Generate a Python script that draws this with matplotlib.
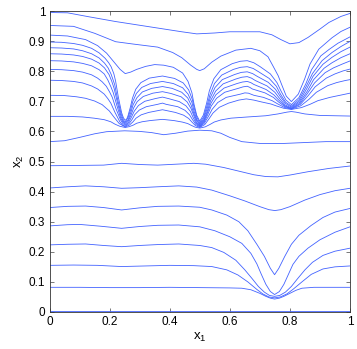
import matplotlib
matplotlib.use("Agg")
import matplotlib.pyplot as plt

# level curves, each a list of (x1, x2) points
c01 = [(0, .995), (.06, .994), (.13, .981), (.22, .965), (.33, .948), (.44, .931), (.49, .924), (.55, .927),
       (.60, .931), (.70, .931), (.74, .921), (.77, .905), (.80, .891), (.83, .895), (.86, .912), (.90, .940),
       (.93, .962), (.97, .982), (1.0, .992)]
c02 = [(0, .952), (.08, .949), (.15, .926), (.22, .898), (.28, .890), (.36, .880), (.41, .862), (.44, .845),
       (.47, .820), (.49, .806), (.50, .802), (.515, .808), (.54, .830), (.57, .850), (.62, .870), (.67, .876),
       (.70, .868), (.727, .848), (.745, .815), (.761, .785), (.774, .752), (.788, .717), (.805, .699),
       (.828, .724), (.849, .774), (.867, .824), (.896, .873), (.940, .911), (.97, .932), (1.0, .946)]
c03 = [(0, .920), (.06, .917), (.12, .905), (.16, .885), (.19, .860), (.215, .830), (.235, .806), (.252, .792),
       (.27, .797), (.29, .806), (.32, .816), (.35, .822), (.38, .820), (.412, .813), (.443, .794), (.461, .766),
       (.474, .728), (.481, .690), (.490, .653), (.500, .634), (.512, .654), (.523, .694), (.532, .735),
       (.547, .775), (.570, .805), (.608, .825), (.635, .833), (.658, .835), (.680, .828), (.701, .815),
       (.735, .791), (.757, .762), (.771, .733), (.787, .704), (.805, .689), (.830, .712), (.853, .758),
       (.872, .805), (.903, .851), (.93, .872), (.96, .893), (1.0, .914)]
c04 = [(0, .897), (.04, .896), (.08, .892), (.11, .886), (.14, .876), (.165, .861), (.185, .843), (.197, .828),
       (.205, .815), (.214, .792), (.220, .767), (.229, .714), (.240, .662), (.246, .645), (.252, .637),
       (.257, .641), (.261, .651), (.269, .680), (.276, .710), (.287, .740), (.304, .762), (.332, .777),
       (.376, .784), (.416, .776), (.445, .761), (.463, .738), (.475, .707), (.482, .676), (.491, .645),
       (.500, .629), (.513, .648), (.524, .685), (.534, .722), (.549, .759), (.573, .787), (.612, .806),
       (.636, .813), (.658, .815), (.678, .809), (.696, .798), (.731, .776), (.755, .750), (.769, .723),
       (.786, .697), (.805, .684), (.831, .706), (.854, .749), (.875, .792), (.907, .835), (.94, .862),
       (.97, .882), (1.0, .899)]
c05 = [(0, .878), (.04, .877), (.08, .874), (.11, .868), (.14, .858), (.165, .844), (.183, .827), (.195, .811),
       (.205, .790), (.212, .770), (.217, .755), (.227, .705), (.239, .656), (.246, .638), (.252, .631),
       (.261, .645), (.270, .672), (.277, .699), (.289, .726), (.307, .746), (.336, .759), (.376, .766),
       (.412, .759), (.443, .745), (.461, .724), (.474, .696), (.481, .667), (.490, .639), (.500, .625),
       (.513, .642), (.525, .677), (.535, .712), (.551, .746), (.575, .772), (.616, .789), (.638, .796),
       (.658, .798), (.676, .792), (.691, .783), (.728, .763), (.752, .740), (.768, .716), (.785, .693),
       (.805, .681), (.832, .701), (.856, .742), (.877, .783), (.910, .823), (.94, .846), (.97, .865),
       (1.0, .880)]
c06 = [(0, .858), (.04, .857), (.08, .854), (.11, .849), (.14, .840), (.165, .827), (.183, .811), (.198, .789),
       (.207, .767), (.215, .743), (.226, .696), (.238, .650), (.245, .634), (.252, .627), (.262, .639),
       (.271, .664), (.278, .688), (.291, .712), (.309, .731), (.340, .743), (.376, .749), (.408, .743),
       (.440, .730), (.460, .711), (.472, .686), (.480, .660), (.490, .635), (.500, .622), (.514, .638),
       (.526, .670), (.536, .702), (.553, .734), (.578, .758), (.620, .774), (.640, .780), (.658, .782),
       (.672, .777), (.685, .769), (.724, .751), (.750, .730), (.766, .709), (.784, .688), (.805, .678),
       (.833, .697), (.858, .734), (.879, .772), (.914, .810), (.94, .828), (.97, .845), (1.0, .858)]
c07 = [(0, .835), (.04, .834), (.08, .831), (.11, .826), (.14, .818), (.165, .805), (.182, .791), (.194, .771),
       (.204, .749), (.212, .729), (.224, .687), (.237, .644), (.245, .630), (.252, .623), (.262, .634),
       (.272, .656), (.280, .678), (.292, .699), (.312, .716), (.344, .727), (.376, .732), (.404, .726),
       (.438, .715), (.458, .698), (.471, .676), (.480, .653), (.489, .630), (.500, .619), (.514, .634),
       (.526, .663), (.537, .693), (.554, .722), (.581, .744), (.624, .759), (.642, .764), (.658, .766),
       (.670, .762), (.680, .756), (.721, .739), (.747, .721), (.764, .703), (.783, .685), (.805, .676),
       (.834, .693), (.859, .727), (.882, .761), (.917, .795), (.945, .811), (.975, .824), (1.0, .834)]
c08 = [(0, .806), (.04, .805), (.08, .802), (.11, .797), (.14, .788), (.16, .777), (.175, .765), (.189, .750),
       (.200, .731), (.209, .713), (.221, .676), (.236, .639), (.244, .626), (.252, .620), (.263, .629),
       (.273, .648), (.282, .667), (.296, .686), (.317, .700), (.352, .709), (.376, .714), (.396, .709),
       (.432, .699), (.454, .685), (.469, .666), (.478, .646), (.488, .627), (.500, .617), (.514, .630),
       (.527, .657), (.538, .684), (.556, .710), (.583, .730), (.628, .743), (.644, .748), (.658, .750),
       (.667, .746), (.675, .741), (.717, .728), (.745, .713), (.762, .698), (.782, .683), (.805, .675),
       (.835, .690), (.861, .719), (.884, .748), (.921, .777), (.95, .791), (.977, .801), (1.0, .807)]
c09 = [(0, .770), (.04, .769), (.08, .766), (.11, .761), (.14, .751), (.16, .741), (.182, .724), (.194, .709),
       (.204, .694), (.218, .663), (.234, .632), (.243, .621), (.252, .617), (.264, .625), (.275, .640),
       (.284, .656), (.299, .671), (.322, .682), (.360, .690), (.376, .694), (.388, .690), (.427, .682),
       (.451, .670), (.466, .655), (.476, .639), (.487, .623), (.500, .615), (.515, .627), (.529, .650),
       (.541, .673), (.560, .696), (.588, .713), (.636, .724), (.650, .728), (.662, .727), (.680, .720),
       (.712, .713), (.741, .702), (.760, .691), (.781, .680), (.805, .674), (.836, .685), (.864, .707),
       (.888, .730), (.926, .752), (.955, .762), (.984, .769), (1.0, .772)]
c10 = [(0, .720), (.05, .719), (.09, .715), (.12, .710), (.15, .701), (.175, .689), (.199, .668), (.215, .647),
       (.232, .626), (.252, .615), (.266, .621), (.278, .632), (.288, .644), (.305, .655), (.330, .663),
       (.376, .672), (.419, .663), (.446, .654), (.463, .643), (.474, .631), (.486, .619), (.500, .613),
       (.517, .623), (.531, .642), (.544, .661), (.565, .680), (.596, .694), (.630, .704), (.655, .708),
       (.680, .704), (.705, .698), (.737, .691), (.757, .684), (.779, .677), (.805, .673), (.838, .679),
       (.867, .690), (.893, .702), (.933, .713), (1.0, .727)]
c11 = [(0, .650), (.06, .650), (.11, .648), (.148, .644), (.182, .639), (.204, .632), (.218, .624), (.234, .617),
       (.252, .613), (.266, .616), (.279, .621), (.290, .627), (.308, .632), (.335, .636), (.376, .640),
       (.414, .636), (.442, .631), (.460, .626), (.472, .620), (.485, .614), (.500, .611), (.518, .615),
       (.534, .623), (.548, .631), (.570, .638), (.604, .644), (.660, .648), (.72, .652), (.76, .658),
       (.79, .664), (.805, .666), (.82, .664), (.85, .658), (.90, .653), (1.0, .651)]
c12 = [(0, .566), (.05, .569), (.10, .580), (.15, .592), (.19, .599), (.25, .602), (.30, .600), (.34, .596),
       (.38, .589), (.42, .594), (.46, .601), (.50, .604), (.54, .602), (.57, .594), (.60, .580), (.64, .566),
       (.70, .560), (.78, .560), (.85, .563), (.92, .566), (1.0, .566)]
c13 = [(0, .486), (.10, .487), (.18, .488), (.24, .494), (.30, .490), (.36, .488), (.42, .491), (.48, .494),
       (.52, .491), (.58, .480), (.63, .468), (.68, .456), (.72, .450), (.76, .449), (.80, .455), (.86, .466),
       (.93, .477), (1.0, .485)]
c14 = [(0, .412), (.06, .416), (.12, .419), (.18, .416), (.24, .411), (.30, .413), (.36, .416), (.43, .419),
       (.49, .415), (.54, .405), (.60, .386), (.65, .369), (.70, .350), (.73, .340), (.75, .337), (.77, .340),
       (.80, .350), (.85, .372), (.90, .390), (.95, .403), (1.0, .411)]
c15 = [(0, .347), (.06, .351), (.12, .352), (.18, .347), (.24, .339), (.30, .346), (.36, .351), (.43, .352),
       (.50, .348), (.54, .339), (.59, .322), (.63, .300), (.66, .270), (.69, .225), (.715, .185), (.735, .145),
       (.749, .124), (.763, .145), (.783, .185), (.805, .225), (.83, .255), (.87, .287), (.91, .314),
       (.95, .332), (1.0, .344)]
c16 = [(0, .286), (.06, .290), (.10, .291), (.17, .285), (.24, .278), (.30, .284), (.36, .288), (.43, .289),
       (.50, .283), (.55, .270), (.60, .250), (.64, .228), (.67, .195), (.69, .160), (.705, .125), (.72, .092),
       (.735, .068), (.749, .058), (.765, .068), (.78, .092), (.795, .125), (.81, .158), (.83, .185),
       (.86, .212), (.90, .240), (.95, .265), (1.0, .283)]
c17 = [(0, .223), (.06, .225), (.12, .226), (.18, .221), (.24, .217), (.30, .221), (.36, .224), (.43, .226),
       (.50, .221), (.54, .214), (.58, .198), (.62, .172), (.65, .140), (.675, .110), (.695, .085), (.715, .066),
       (.732, .055), (.749, .052), (.766, .055), (.785, .066), (.805, .085), (.825, .110), (.85, .140),
       (.875, .165), (.91, .188), (.95, .202), (1.0, .212)]
c18 = [(0, .155), (.08, .156), (.16, .155), (.24, .151), (.32, .153), (.40, .155), (.48, .154), (.54, .151),
       (.59, .140), (.627, .123), (.66, .100), (.69, .075), (.71, .060), (.73, .050), (.749, .047), (.768, .050),
       (.79, .060), (.81, .075), (.84, .100), (.871, .125), (.91, .143), (.95, .150), (1.0, .153)]
c19 = [(0, .082), (.1, .082), (.2, .081), (.3, .081), (.4, .082), (.5, .081), (.6, .080), (.64, .079),
       (.67, .074), (.70, .062), (.72, .052), (.735, .046), (.749, .043), (.765, .046), (.78, .052), (.80, .062),
       (.82, .072), (.84, .079), (.88, .082), (1.0, .082)]
c20 = [(0, .002), (1.0, .002)]

curves = [c01, c02, c03, c04, c05, c06, c07, c08, c09, c10,
          c11, c12, c13, c14, c15, c16, c17, c18, c19, c20]

x_ticks = [0, 0.2, 0.4, 0.6, 0.8, 1]
y_ticks = [0, 0.1, 0.2, 0.3, 0.4, 0.5, 0.6, 0.7, 0.8, 0.9, 1]

plt.rcParams['font.family'] = ['Liberation Sans', 'DejaVu Sans']

fig = plt.figure(figsize=(3.57, 3.49), dpi=100)
ax = fig.add_axes([49.5 / 357, 37 / 349, 300.5 / 357, 301 / 349])

for c in curves:
    xs = [p[0] for p in c]
    ys = [p[1] for p in c]
    ax.plot(xs, ys, color='#4262ff', lw=0.6)

ax.set_xlim(0, 1)
ax.set_ylim(0, 1)
ax.set_xticks(x_ticks)
ax.set_xticklabels(['0', '0.2', '0.4', '0.6', '0.8', '1'])
ax.set_yticks(y_ticks)
ax.set_yticklabels(['0', '0.1', '0.2', '0.3', '0.4', '0.5', '0.6', '0.7', '0.8', '0.9', '1'])
ax.tick_params(direction='in', length=3, width=0.5, labelsize=8.5, pad=3,
               top=True, right=True, color='#444444')
for s in ax.spines.values():
    s.set_linewidth(0.6)
    s.set_color('#333333')

ax.set_xlabel(r'$\mathregular{x_1}$', fontsize=9.5, labelpad=2)
ax.set_ylabel(r'$\mathregular{x_2}$', fontsize=9.5, labelpad=2)

fig.savefig('out.png', dpi=100)
